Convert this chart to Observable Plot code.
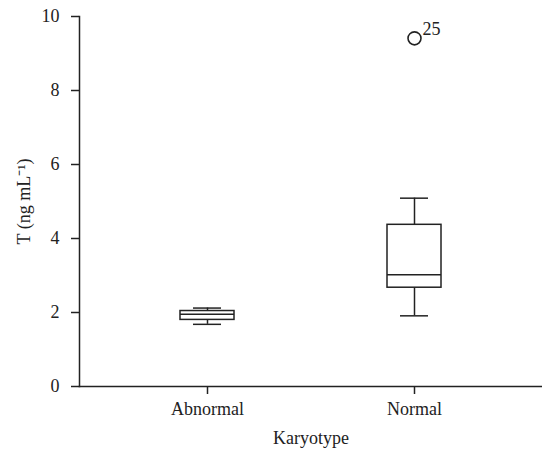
<!DOCTYPE html>
<html>
<head>
<meta charset="utf-8">
<script src="https://cdn.jsdelivr.net/npm/d3@7"></script>
<script src="https://cdn.jsdelivr.net/npm/@observablehq/plot@0.6"></script>
<style>
  html, body { margin: 0; padding: 0; background: #fff; }
  #chart svg { display: block; }
</style>
</head>
<body>
<div id="chart"></div>
<script>
const groups = ["Abnormal", "Normal"];
const whiskerLo = [1.68, 1.91];
const q1 = [1.80, 2.67];
const median = [1.95, 3.02];
const q3 = [2.04, 4.37];
const whiskerHi = [2.12, 5.09];
const outlierGroup = ["Normal"];
const outlierValue = [9.41];
const outlierLabel = ["25"];
const yTicks = [0, 2, 4, 6, 8, 10];

const boxes = groups.map((g, i) => ({
  g, lo: whiskerLo[i], q1: q1[i], med: median[i], q3: q3[i], hi: whiskerHi[i]
}));
const outliers = outlierGroup.map((g, i) => ({ g, v: outlierValue[i], label: outlierLabel[i] }));

const ink = "#222";
const chart = Plot.plot({
  width: 542,
  height: 451,
  marginLeft: 79,
  marginRight: 0,
  marginTop: 16,
  marginBottom: 65,
  style: { fontFamily: "'Liberation Serif', 'Times New Roman', serif", fontSize: "18px", color: ink, background: "#fff" },
  x: { domain: groups, type: "band", paddingInner: 0.74, paddingOuter: 0.483 },
  y: { domain: [0, 10] },
  marks: [
    Plot.axisY({ ticks: yTicks, tickSize: 8, tickPadding: 12, stroke: ink, strokeWidth: 1.5, label: "T (ng mL⁻¹)", labelAnchor: "center", labelOffset: 62, labelArrow: "none" }),
    Plot.axisX({ tickSize: 8, tickPadding: 8, stroke: ink, strokeWidth: 1.5, label: "Karyotype", labelAnchor: "center", labelOffset: 57, labelArrow: "none" }),
    Plot.frame({ anchor: "left", stroke: ink, strokeWidth: 1.5 }),
    Plot.frame({ anchor: "bottom", stroke: ink, strokeWidth: 1.5 }),
    Plot.ruleX(boxes, { x: "g", y1: "lo", y2: "q1", stroke: ink, strokeWidth: 1.5 }),
    Plot.ruleX(boxes, { x: "g", y1: "q3", y2: "hi", stroke: ink, strokeWidth: 1.5 }),
    Plot.tickY(boxes, { x: "g", y: "lo", stroke: ink, strokeWidth: 1.5, insetLeft: 13, insetRight: 13 }),
    Plot.tickY(boxes, { x: "g", y: "hi", stroke: ink, strokeWidth: 1.5, insetLeft: 13, insetRight: 13 }),
    Plot.barY(boxes, { x: "g", y1: "q1", y2: "q3", fill: "white", stroke: ink, strokeWidth: 1.5 }),
    Plot.tickY(boxes, { x: "g", y: "med", stroke: ink, strokeWidth: 1.5 }),
    Plot.dot(outliers, { x: "g", y: "v", r: 6.5, stroke: ink, strokeWidth: 1.6, fill: "none" }),
    Plot.text(outliers, { x: "g", y: "v", text: "label", dx: 8, dy: -9, textAnchor: "start", fill: ink, fontSize: 18 })
  ]
});
document.getElementById("chart").appendChild(chart);
</script>
</body>
</html>
